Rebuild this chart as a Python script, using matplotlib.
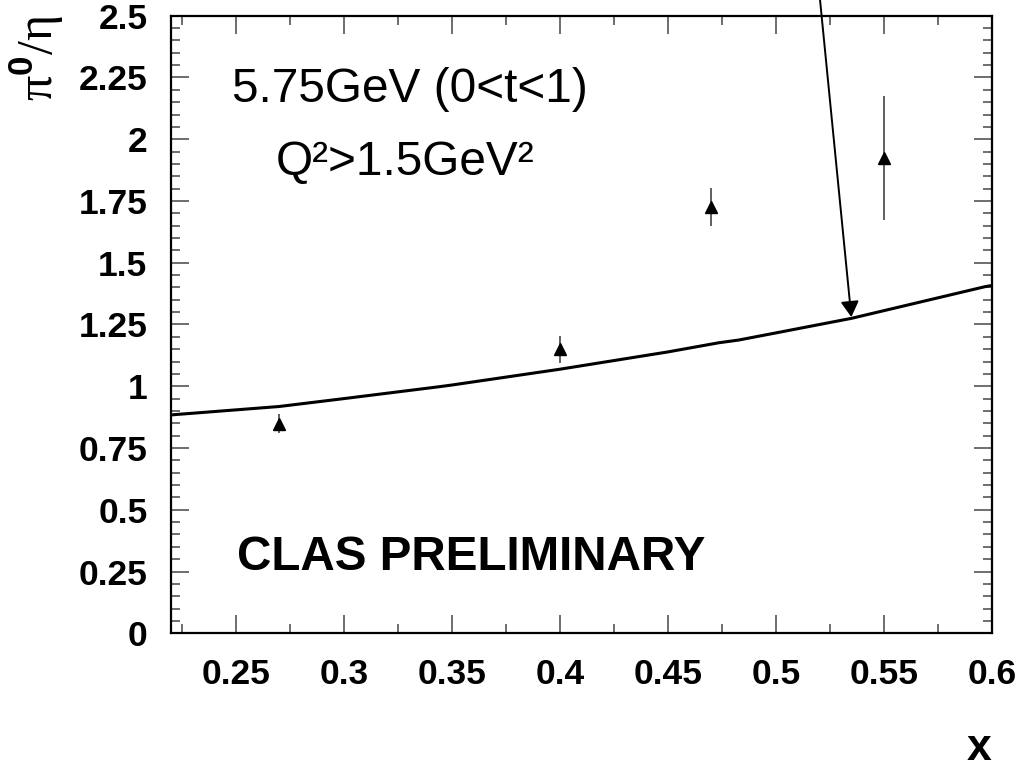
import matplotlib
matplotlib.use("Agg")
import matplotlib.pyplot as plt
from matplotlib.ticker import MultipleLocator, FixedLocator

plt.rcParams['font.family'] = ['Liberation Sans', 'DejaVu Sans']
plt.rcParams['mathtext.fontset'] = 'custom'
plt.rcParams['mathtext.rm'] = 'Liberation Serif'
plt.rcParams['mathtext.bf'] = 'Liberation Sans:bold'

# data points (pi0/eta ratio)
x_pts = [0.27, 0.40, 0.47, 0.55]
y_pts = [0.849, 1.150, 1.725, 1.923]
y_err = [0.040, 0.054, 0.078, 0.252]

# model curve
curve_x = [0.22, 0.27, 0.30, 0.344, 0.35, 0.40, 0.45, 0.4735, 0.4827, 0.50, 0.535, 0.5967, 0.60]
curve_y = [0.884, 0.918, 0.950, 0.998, 1.005, 1.069, 1.139, 1.176, 1.187, 1.216, 1.275, 1.403, 1.408]

x_ticks = [0.25, 0.3, 0.35, 0.4, 0.45, 0.5, 0.55, 0.6]
x_ticklabels = ['0.25', '0.3', '0.35', '0.4', '0.45', '0.5', '0.55', '0.6']
y_ticks = [0, 0.25, 0.5, 0.75, 1.0, 1.25, 1.5, 1.75, 2.0, 2.25, 2.5]
y_ticklabels = ['0', '0.25', '0.5', '0.75', '1', '1.25', '1.5', '1.75', '2', '2.25', '2.5']

arrow_tip = (0.5349, 1.280)
arrow_tail = (0.5200, 2.60)

fig = plt.figure(figsize=(10.26, 7.67), dpi=100)
ax = fig.add_axes([171/1026, 1 - 633.3/767, (992-171)/1026, (633.3-15.7)/767])

ax.plot(curve_x, curve_y, color='black', lw=2.2, solid_capstyle='butt')
ax.errorbar(x_pts, y_pts, yerr=y_err, fmt='^', color='black', ms=9,
            ecolor='#444444', elinewidth=1.2, capsize=0, zorder=5)

ax.annotate('', xy=arrow_tip, xytext=arrow_tail, annotation_clip=False,
            arrowprops=dict(arrowstyle='-|>,head_length=0.95,head_width=0.55',
                            mutation_scale=10, color='black', lw=1.4,
                            shrinkA=0, shrinkB=0), zorder=6)

ax.set_xlim(0.22, 0.6)
ax.set_ylim(0, 2.5)
ax.xaxis.set_major_locator(FixedLocator(x_ticks))
ax.set_xticklabels(x_ticklabels)
ax.yaxis.set_major_locator(FixedLocator(y_ticks))
ax.set_yticklabels(y_ticklabels)
ax.xaxis.set_minor_locator(MultipleLocator(0.025))
ax.yaxis.set_minor_locator(MultipleLocator(0.05))

ax.tick_params(which='both', direction='in', top=True, right=True, color='#555555', width=1.2)
ax.tick_params(which='major', length=13)
ax.tick_params(which='minor', length=6.5)
ax.tick_params(axis='y', which='major', pad=17)
ax.tick_params(axis='x', which='major', pad=18)
for lab in ax.get_xticklabels() + ax.get_yticklabels():
    lab.set_fontsize(25.5)
    lab.set_fontweight('bold')
for sp in ax.spines.values():
    sp.set_linewidth(1.6)
    sp.set_color('black')

fig.text(410/1026, 1 - 89/767, '5.75GeV (0<t<1)', fontsize=34.4, ha='center', va='center')
fig.text(405/1026, 1 - 162/767, 'Q²>1.5GeV²', fontsize=34.4, ha='center', va='center')
fig.text(471/1026, 1 - 557/767, 'CLAS PRELIMINARY', fontsize=34.3, fontweight='bold',
         ha='center', va='center')

fig.text(36/1026, 1 - 15/767, r'$\mathrm{\pi}^{\mathbf{0}}/\mathrm{\eta}$', fontsize=36, rotation=90,
         ha='center', va='top')
fig.text(979/1026, 1 - 748/767, 'x', fontsize=32, fontweight='bold', ha='center', va='center')

fig.savefig('out.png', dpi=100)
